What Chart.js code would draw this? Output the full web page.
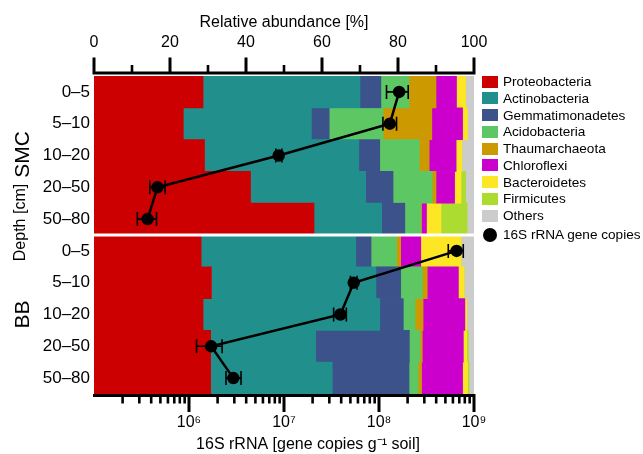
<!DOCTYPE html>
<html>
<head>
<meta charset="utf-8">
<script src="https://cdn.jsdelivr.net/npm/chart.js@4.4.1/dist/chart.umd.min.js"></script>
<style>
  body { margin: 0; background: #fff; }
  #wrap { position: relative; width: 643px; height: 454px; }
  #chart { position: absolute; left: 0; top: 0; }
  #legend { position: absolute; left: 482px; top: 73.3px; font: 13.6px "Liberation Sans", Arial, sans-serif; color: #000; }
  .item { height: 16.75px; display: flex; align-items: center; white-space: nowrap; }
  .box { width: 16px; height: 12px; margin-right: 5px; }
  .dot { width: 14px; height: 14px; border-radius: 50%; background: #000; margin-left: 1px; margin-right: 6px; }
</style>
</head>
<body>
<div id="wrap">
  <canvas id="chart" width="643" height="454"></canvas>
  <div id="legend"></div>
</div>
<script>
//depth classes, SMC rows first then BB rows
var depths = ["0–5", "5–10", "10–20", "20–50", "50–80", "0–5", "5–10", "10–20", "20–50", "50–80"];
var sites = ["SMC", "BB"];

//relative abundance [%] for every row
var proteobacteria = [28.7, 23.5, 29.1, 41.2, 57.9, 28.2, 30.9, 28.7, 30.7, 30.7];
var actinobacteria = [41.3, 33.7, 40.6, 30.3, 17.8, 40.7, 43.3, 46.5, 27.6, 32.0];
var gemmatimonadetes = [5.5, 4.7, 5.5, 7.2, 6.1, 4.0, 6.5, 6.2, 24.7, 20.2];
var acidobacteria = [7.4, 14.2, 10.4, 10.3, 4.2, 6.7, 5.7, 3.1, 2.8, 2.4];
var thaumarchaeota = [7.1, 12.8, 2.6, 1.0, 0.2, 1.1, 1.3, 2.1, 0.6, 0.9];
var chloroflexi = [5.4, 8.1, 7.1, 4.9, 1.3, 5.3, 8.2, 11.0, 10.8, 10.8];
var bacteroidetes = [2.4, 1.3, 1.5, 1.7, 3.8, 10.6, 1.5, 0.5, 0.9, 1.3];
var firmicutes = [0, 0, 0, 1.2, 6.9, 0, 0, 0, 0.4, 0.4];
var others = [2.2, 1.7, 3.2, 2.2, 1.8, 3.4, 2.6, 1.9, 1.5, 1.3];

//16S rRNA gene copies per g soil (mean, lower and upper error)
var smcCopies = [1.63e8, 1.30e8, 8.8e6, 4.66e5, 3.66e5];
var smcLow = [1.2e8, 1.1e8, 8.2e6, 3.87e5, 2.86e5];
var smcHigh = [2.03e8, 1.53e8, 9.5e6, 5.61e5, 4.55e5];
var bbCopies = [6.56e8, 5.42e7, 3.92e7, 1.71e6, 2.93e6];
var bbLow = [5.36e8, 5.0e7, 3.33e7, 1.2e6, 2.45e6];
var bbHigh = [7.71e8, 5.87e7, 4.53e7, 2.23e6, 3.53e6];

//axis ticks
var topTicks = [0, 20, 40, 60, 80, 100];
var topMinorTicks = [10, 30, 50, 70, 90];
var logTicks = [1e6, 1e7, 1e8, 1e9];
var logDecades = [1e5, 1e6, 1e7, 1e8];
var logSteps = [2, 3, 4, 5, 6, 7, 8, 9];

var phyla = ["Proteobacteria", "Actinobacteria", "Gemmatimonadetes", "Acidobacteria", "Thaumarchaeota", "Chloroflexi", "Bacteroidetes", "Firmicutes", "Others"];
var phylaValues = [proteobacteria, actinobacteria, gemmatimonadetes, acidobacteria, thaumarchaeota, chloroflexi, bacteroidetes, firmicutes, others];
var colors = ["#cc0000", "#21908c", "#3b528b", "#5dc863", "#cc9900", "#cc00cc", "#fde725", "#addc30", "#cccccc"];

var empty = [null, null, null, null, null];
var smcLine = smcCopies.concat(empty);
var bbLine = empty.concat(bbCopies);
var errLow = [smcLow.concat(empty), empty.concat(bbLow)];
var errHigh = [smcHigh.concat(empty), empty.concat(bbHigh)];

var supDigits = { 5: "⁵", 6: "⁶", 7: "⁷", 8: "⁸", 9: "⁹" };
var fontFamily = "'Liberation Sans', Arial, sans-serif";
Chart.defaults.font.family = fontFamily;
Chart.defaults.color = "#000";

//bar datasets
var datasets = phyla.map(function (name, i) {
  return {
    label: name,
    data: phylaValues[i],
    backgroundColor: colors[i],
    xAxisID: "x",
    order: 1,
    barPercentage: 1,
    categoryPercentage: 1,
  };
});
//gene copy lines, one per site
[smcLine, bbLine].forEach(function (line, i) {
  datasets.push({
    type: "line",
    label: "16S rRNA gene copies " + sites[i],
    data: line,
    indexAxis: "y",
    xAxisID: "xLog",
    order: 0,
    borderColor: "#000",
    borderWidth: 2.5,
    pointRadius: 5,
    pointBackgroundColor: "#000",
    pointBorderColor: "#000",
    tension: 0,
  });
});

//draws axis lines, tick marks, error bars, separator and side labels
var extrasPlugin = {
  id: "extras",
  afterDraw: function (chart) {
    var ctx = chart.ctx;
    var area = chart.chartArea;
    var xTop = chart.scales.x;
    var xLog = chart.scales.xLog;
    var yScale = chart.scales.y;
    ctx.save();

    //white line between the two sites
    var ySep = (yScale.getPixelForValue(4) + yScale.getPixelForValue(5)) / 2;
    ctx.fillStyle = "#fff";
    ctx.fillRect(area.left, ySep - 1.5, area.right - area.left, 3);

    //error bars
    ctx.strokeStyle = "#000";
    ctx.lineWidth = 1.6;
    for (var d = 0; d < 2; d++) {
      for (var i = 0; i < depths.length; i++) {
        if (errLow[d][i] == null) continue;
        var y = yScale.getPixelForValue(i);
        var x1 = xLog.getPixelForValue(errLow[d][i]);
        var x2 = xLog.getPixelForValue(errHigh[d][i]);
        ctx.beginPath();
        ctx.moveTo(x1, y);
        ctx.lineTo(x2, y);
        ctx.moveTo(x1, y - 7);
        ctx.lineTo(x1, y + 7);
        ctx.moveTo(x2, y - 7);
        ctx.lineTo(x2, y + 7);
        ctx.stroke();
      }
    }

    //top axis
    var yTop = area.top - 3;
    var xa = xTop.getPixelForValue(0);
    var xb = xTop.getPixelForValue(100);
    ctx.lineWidth = 3;
    ctx.beginPath();
    ctx.moveTo(xa - 1.5, yTop);
    ctx.lineTo(xb + 1.5, yTop);
    topTicks.forEach(function (v) {
      var x = xTop.getPixelForValue(v);
      ctx.moveTo(x, yTop);
      ctx.lineTo(x, yTop - 15.5);
    });
    ctx.stroke();
    ctx.lineWidth = 2.6;
    ctx.beginPath();
    topMinorTicks.forEach(function (v) {
      var x = xTop.getPixelForValue(v);
      ctx.moveTo(x, yTop);
      ctx.lineTo(x, yTop - 8);
    });
    ctx.stroke();

    //bottom axis
    var yBot = area.bottom + 1.5;
    ctx.lineWidth = 3;
    ctx.beginPath();
    ctx.moveTo(area.left - 1, yBot);
    ctx.lineTo(xLog.getPixelForValue(1e9) + 1.5, yBot);
    logTicks.forEach(function (v) {
      var x = xLog.getPixelForValue(v);
      ctx.moveTo(x, yBot);
      ctx.lineTo(x, yBot + 16.5);
    });
    ctx.stroke();
    ctx.lineWidth = 2.6;
    ctx.beginPath();
    logDecades.forEach(function (dec) {
      logSteps.forEach(function (s) {
        var x = xLog.getPixelForValue(dec * s);
        ctx.moveTo(x, yBot);
        ctx.lineTo(x, yBot + 8);
      });
    });
    ctx.stroke();

    //texts
    ctx.fillStyle = "#000";
    ctx.textAlign = "center";
    ctx.textBaseline = "middle";
    ctx.font = "16px " + fontFamily;
    ctx.fillText("16S rRNA [gene copies g⁻¹ soil]", 308, 445);

    var smcMid = (yScale.getPixelForValue(0) + yScale.getPixelForValue(4)) / 2;
    var bbMid = (yScale.getPixelForValue(5) + yScale.getPixelForValue(9)) / 2;
    var rot = function (text, x, y, size) {
      ctx.save();
      ctx.translate(x, y);
      ctx.rotate(-Math.PI / 2);
      ctx.font = size + "px " + fontFamily;
      ctx.fillText(text, 0, 0);
      ctx.restore();
    };
    rot(sites[0], 23, smcMid - 1, 21);
    rot(sites[1], 23, bbMid, 21);
    rot("Depth [cm]", 21, 222.5, 16);
    ctx.restore();
  },
};

var ctx = document.getElementById("chart").getContext("2d");
var myChart = new Chart(ctx, {
  type: "bar",
  data: { labels: depths, datasets: datasets },
  options: {
    responsive: false,
    animation: false,
    devicePixelRatio: 1,
    indexAxis: "y",
    layout: { padding: { left: 0, right: 169, top: 0, bottom: 0 } },
    plugins: { legend: { display: false }, tooltip: { enabled: false } },
    scales: {
      x: {
        type: "linear",
        position: "top",
        stacked: true,
        min: 0,
        max: 100,
        afterBuildTicks: function (s) { s.ticks = topTicks.map(function (v) { return { value: v }; }); },
        afterFit: function (s) { s.height = 76; },
        grid: { display: false, drawTicks: true, tickLength: 16 },
        border: { display: false },
        ticks: { font: { size: 16 }, color: "#000", padding: 8, maxRotation: 0, autoSkip: false },
        title: { display: true, text: "Relative abundance [%]", font: { size: 16 }, color: "#000", padding: { top: 13, bottom: 0 } },
      },
      xLog: {
        type: "logarithmic",
        position: "bottom",
        min: 1e5,
        max: 1e9,
        afterBuildTicks: function (s) { s.ticks = logTicks.map(function (v) { return { value: v }; }); },
        afterFit: function (s) { s.height = 60; },
        grid: { display: false, drawTicks: true, tickLength: 16 },
        border: { display: false },
        ticks: {
          font: { size: 16 },
          color: "#000",
          padding: 3,
          maxRotation: 0,
          autoSkip: false,
          callback: function (v) { return "10" + supDigits[Math.round(Math.log10(v))]; },
        },
      },
      y: {
        stacked: true,
        afterFit: function (s) { s.width = 94; },
        grid: { display: false, drawTicks: false },
        border: { display: false },
        ticks: { font: { size: 17 }, color: "#000", padding: 4, autoSkip: false },
      },
    },
  },
  plugins: [extrasPlugin],
});

//legend on the right
var legend = document.getElementById("legend");
phyla.forEach(function (name, i) {
  legend.innerHTML += '<div class="item"><span class="box" style="background:' + colors[i] + '"></span>' + name + "</div>";
});
legend.innerHTML += '<div class="item" style="margin-top:2.5px"><span class="dot"></span>16S rRNA gene copies</div>';
</script>
</body>
</html>
